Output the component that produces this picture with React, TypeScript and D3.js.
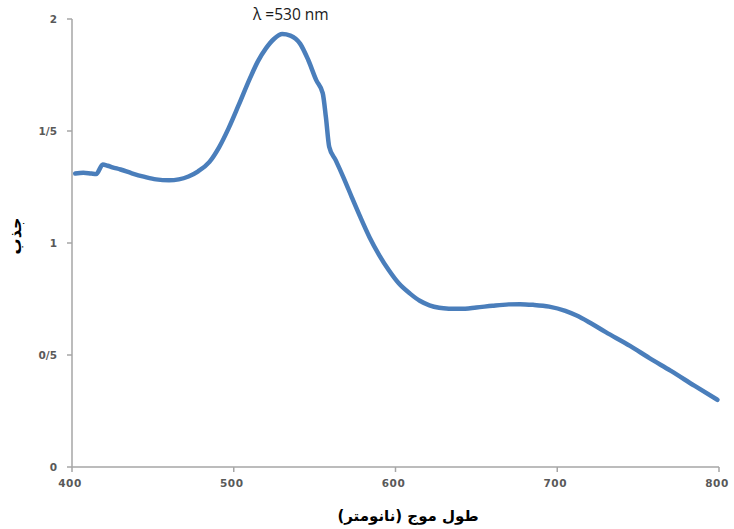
import React from "react";
import * as d3 from "d3";

const wavelengths = [402, 407, 412, 415, 419, 422, 425, 430, 437, 445, 452, 460, 466, 472, 478, 485, 491, 497, 503, 510, 515, 520, 525, 530, 535, 541, 546, 551, 555, 557, 559, 563, 568, 573, 578, 584, 590, 596, 602, 609, 615, 621, 627, 633, 640, 650, 660, 670, 677, 685, 695, 705, 712, 720, 730, 745, 757, 770, 785, 799];
const absorbance = [1.31, 1.314, 1.31, 1.308, 1.35, 1.345, 1.338, 1.328, 1.311, 1.295, 1.284, 1.28, 1.284, 1.297, 1.32, 1.362, 1.428, 1.515, 1.615, 1.735, 1.812, 1.87, 1.912, 1.933, 1.926, 1.89, 1.818, 1.727, 1.669, 1.56, 1.43, 1.37, 1.29, 1.204, 1.12, 1.025, 0.945, 0.877, 0.82, 0.774, 0.742, 0.722, 0.711, 0.707, 0.706, 0.712, 0.72, 0.726, 0.727, 0.724, 0.716, 0.697, 0.676, 0.645, 0.602, 0.541, 0.486, 0.43, 0.362, 0.3];

const xTicks = [400, 500, 600, 700, 800];
const yTicks = [0, 0.5, 1, 1.5, 2];
const yTickLabels = ["0", "0/5", "1", "1/5", "2"];

const W = 734;
const H = 529;

export default function App() {
  const x = d3.scaleLinear().domain([400, 800]).range([72, 719]);
  const y = d3.scaleLinear().domain([0, 2]).range([467, 19]);
  const pts: [number, number][] = wavelengths.map((w, i) => [w, absorbance[i]]);
  const line = d3
    .line<[number, number]>()
    .x((d) => x(d[0]))
    .y((d) => y(d[1]))
    .curve(d3.curveMonotoneX);

  const axisColor = "#a6a6a6";
  const tickFont = { fontFamily: "DejaVu Sans", fontWeight: 700, fontSize: 10.5, fill: "#595959" } as const;

  return (
    <svg width={W} height={H} style={{ position: "absolute", left: 0, top: 0, background: "#fff" }}>
      {/* y axis */}
      <line x1={x(400)} x2={x(400)} y1={y(2)} y2={y(0)} stroke={axisColor} strokeWidth={1.5} />
      {yTicks.map((t, i) => (
        <g key={"y" + t}>
          <line x1={x(400) - 5} x2={x(400)} y1={y(t)} y2={y(t)} stroke={axisColor} strokeWidth={1.5} />
          <text x={x(400) - 15} y={y(t) + 4} textAnchor="end" {...tickFont}>
            {yTickLabels[i]}
          </text>
        </g>
      ))}
      {/* x axis */}
      <line x1={x(400)} x2={x(800)} y1={y(0)} y2={y(0)} stroke={axisColor} strokeWidth={1.5} />
      {xTicks.map((t) => (
        <g key={"x" + t}>
          <line x1={x(t)} x2={x(t)} y1={y(0)} y2={y(0) + 5} stroke={axisColor} strokeWidth={1.5} />
          <text x={x(t) - 2} y={y(0) + 20} textAnchor="middle" {...tickFont} letterSpacing={0.6}>
            {t}
          </text>
        </g>
      ))}
      {/* data line */}
      <path d={line(pts) || ""} fill="none" stroke="#4a7ebb" strokeWidth={4.5} strokeLinejoin="round" strokeLinecap="round" />
      {/* annotation */}
      <text x={253} y={20} fontFamily="Open Sans" fontSize={15.5} fill="#1a1a1a">
        λ =530 nm
      </text>
      {/* axis titles */}
      <text x={408} y={521} textAnchor="middle" fontFamily="DejaVu Sans" fontWeight={700} fontSize={15} fill="#000" direction="rtl">
        طول موج (نانومتر)
      </text>
      <text
        transform={`translate(21,236) rotate(-90)`}
        textAnchor="middle"
        fontFamily="DejaVu Sans"
        fontWeight={700}
        fontSize={16}
        fill="#000"
        direction="rtl"
      >
        جذب
      </text>
    </svg>
  );
}
